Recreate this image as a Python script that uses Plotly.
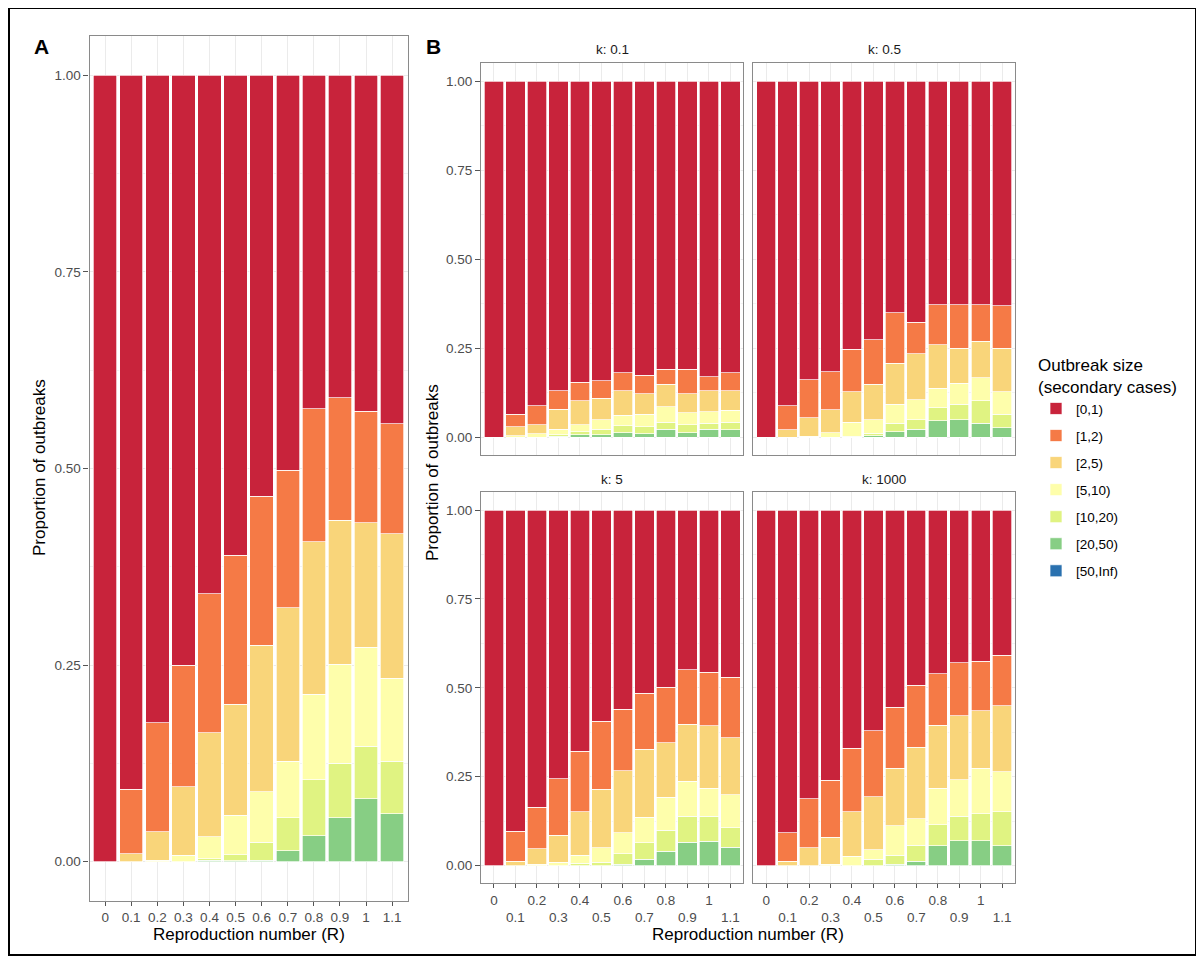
import plotly.graph_objects as go

# ---------------- data ----------------
R_LABELS = ["0", "0.1", "0.2", "0.3", "0.4", "0.5", "0.6", "0.7", "0.8", "0.9", "1", "1.1"]
SIZE_BINS = ["[0,1)", "[1,2)", "[2,5)", "[5,10)", "[10,20)", "[20,50)", "[50,Inf)"]
K_LABELS = ["k: 0.1", "k: 0.5", "k: 5", "k: 1000"]

# Panel A (proportion of outbreaks per size bin)
A_0_1 = [1.000, 0.908, 0.823, 0.750, 0.659, 0.610, 0.535, 0.502, 0.424, 0.410, 0.427, 0.443]
A_1_2 = [0.000, 0.082, 0.139, 0.155, 0.177, 0.190, 0.190, 0.175, 0.169, 0.156, 0.142, 0.140]
A_2_5 = [0.000, 0.010, 0.036, 0.087, 0.132, 0.141, 0.186, 0.195, 0.194, 0.183, 0.158, 0.184]
A_5_10 = [0.000, 0.000, 0.002, 0.008, 0.028, 0.050, 0.064, 0.072, 0.109, 0.126, 0.126, 0.105]
A_10_20 = [0.000, 0.000, 0.000, 0.000, 0.002, 0.008, 0.023, 0.042, 0.071, 0.069, 0.067, 0.067]
A_20_50 = [0.000, 0.000, 0.000, 0.000, 0.002, 0.001, 0.002, 0.014, 0.033, 0.056, 0.080, 0.061]
A_50_INF = [0, 0, 0, 0, 0, 0, 0, 0, 0, 0, 0, 0]

# Panel B, k = 0.1
K01_0_1 = [1.000, 0.935, 0.911, 0.869, 0.846, 0.842, 0.819, 0.826, 0.809, 0.809, 0.830, 0.819]
K01_1_2 = [0.000, 0.035, 0.054, 0.052, 0.052, 0.049, 0.050, 0.052, 0.043, 0.069, 0.039, 0.050]
K01_2_5 = [0.000, 0.026, 0.026, 0.057, 0.067, 0.060, 0.069, 0.057, 0.063, 0.053, 0.059, 0.056]
K01_5_10 = [0.000, 0.004, 0.009, 0.015, 0.019, 0.026, 0.030, 0.035, 0.043, 0.034, 0.033, 0.033]
K01_10_20 = [0.000, 0.000, 0.000, 0.005, 0.009, 0.016, 0.019, 0.021, 0.019, 0.022, 0.016, 0.021]
K01_20_50 = [0.000, 0.000, 0.000, 0.002, 0.007, 0.007, 0.013, 0.009, 0.023, 0.013, 0.023, 0.021]
K01_50_INF = [0, 0, 0, 0, 0, 0, 0, 0, 0, 0, 0, 0]

# Panel B, k = 0.5
K05_0_1 = [1.000, 0.911, 0.839, 0.816, 0.753, 0.727, 0.650, 0.677, 0.628, 0.628, 0.628, 0.631]
K05_1_2 = [0.000, 0.068, 0.106, 0.107, 0.119, 0.124, 0.142, 0.089, 0.112, 0.122, 0.103, 0.119]
K05_2_5 = [0.000, 0.021, 0.053, 0.064, 0.086, 0.100, 0.116, 0.129, 0.122, 0.098, 0.102, 0.122]
K05_5_10 = [0.000, 0.000, 0.002, 0.013, 0.039, 0.038, 0.053, 0.056, 0.055, 0.060, 0.065, 0.063]
K05_10_20 = [0.000, 0.000, 0.000, 0.000, 0.003, 0.007, 0.023, 0.026, 0.037, 0.043, 0.063, 0.038]
K05_20_50 = [0.000, 0.000, 0.000, 0.000, 0.000, 0.004, 0.016, 0.023, 0.046, 0.049, 0.039, 0.027]
K05_50_INF = [0, 0, 0, 0, 0, 0, 0, 0, 0, 0, 0, 0]

# Panel B, k = 5
K5_0_1 = [1.000, 0.904, 0.836, 0.756, 0.678, 0.594, 0.561, 0.516, 0.499, 0.449, 0.456, 0.470]
K5_1_2 = [0.000, 0.084, 0.117, 0.159, 0.170, 0.191, 0.172, 0.157, 0.155, 0.153, 0.151, 0.170]
K5_2_5 = [0.000, 0.012, 0.044, 0.076, 0.123, 0.165, 0.175, 0.191, 0.154, 0.161, 0.176, 0.161]
K5_5_10 = [0.000, 0.000, 0.003, 0.009, 0.023, 0.041, 0.059, 0.072, 0.093, 0.099, 0.079, 0.093]
K5_10_20 = [0.000, 0.000, 0.000, 0.000, 0.006, 0.009, 0.030, 0.047, 0.059, 0.073, 0.070, 0.054]
K5_20_50 = [0.000, 0.000, 0.000, 0.000, 0.000, 0.000, 0.003, 0.017, 0.040, 0.065, 0.068, 0.052]
K5_50_INF = [0, 0, 0, 0, 0, 0, 0, 0, 0, 0, 0, 0]

# Panel B, k = 1000
K1000_0_1 = [1.000, 0.908, 0.812, 0.760, 0.670, 0.621, 0.555, 0.493, 0.460, 0.429, 0.426, 0.409]
K1000_1_2 = [0.000, 0.080, 0.138, 0.161, 0.178, 0.185, 0.171, 0.174, 0.145, 0.150, 0.138, 0.142]
K1000_2_5 = [0.000, 0.012, 0.050, 0.076, 0.126, 0.149, 0.162, 0.201, 0.177, 0.180, 0.162, 0.185]
K1000_5_10 = [0.000, 0.000, 0.000, 0.003, 0.026, 0.028, 0.083, 0.075, 0.103, 0.103, 0.128, 0.112]
K1000_10_20 = [0.000, 0.000, 0.000, 0.000, 0.000, 0.017, 0.026, 0.045, 0.059, 0.068, 0.076, 0.096]
K1000_20_50 = [0.000, 0.000, 0.000, 0.000, 0.000, 0.000, 0.003, 0.012, 0.056, 0.070, 0.070, 0.056]
K1000_50_INF = [0, 0, 0, 0, 0, 0, 0, 0, 0, 0, 0, 0]

# ---------------- styling ----------------
BIN_COLORS = ["#C8233B", "#F57A46", "#F9D57A", "#FEFEAB", "#E0F382", "#87CE84", "#2A71AF"]
FONT = "Liberation Sans, Arial, sans-serif"
OFF = 8                     # page body margin of the browser
W, H = 1204 - OFF, 962 - OFF

PANELS = [
    ("", [A_0_1, A_1_2, A_2_5, A_5_10, A_10_20, A_20_50, A_50_INF]),
    ("2", [K01_0_1, K01_1_2, K01_2_5, K01_5_10, K01_10_20, K01_20_50, K01_50_INF]),
    ("3", [K05_0_1, K05_1_2, K05_2_5, K05_5_10, K05_10_20, K05_20_50, K05_50_INF]),
    ("4", [K5_0_1, K5_1_2, K5_2_5, K5_5_10, K5_10_20, K5_20_50, K5_50_INF]),
    ("5", [K1000_0_1, K1000_1_2, K1000_2_5, K1000_5_10, K1000_10_20, K1000_20_50, K1000_50_INF]),
]


def px_x(v):
    return (v - OFF) / W


def px_y(v):
    return 1 - (v - OFF) / H


fig = go.Figure()
for p, (suffix, series) in enumerate(PANELS):
    # stack bottom-up: largest sizes at the bottom, [0,1) on top
    for b in reversed(range(len(SIZE_BINS))):
        fig.add_trace(go.Bar(
            x=R_LABELS, y=series[b], name=SIZE_BINS[b],
            marker=dict(color=BIN_COLORS[b], line=dict(color="white", width=0.7)),
            legendgroup=SIZE_BINS[b], showlegend=(p == 0), legendrank=b + 1,
            xaxis="x" + suffix, yaxis="y" + suffix,
            hovertemplate="R=%{x}<br>%{y:.3f}<extra>" + SIZE_BINS[b] + "</extra>",
        ))

GRID = "#EBEBEB"
LINE = "#8A8A8A"
TICKFONT = dict(family=FONT, size=13.5, color="#4D4D4D")


def xaxis(domain, anchor, labels, ticktext=None):
    d = dict(domain=domain, anchor=anchor, type="category", range=[-0.6, 11.6],
             showgrid=True, gridcolor=GRID, gridwidth=1,
             showline=True, mirror=True, linecolor=LINE, linewidth=1.2,
             zeroline=False, tickfont=TICKFONT, fixedrange=True)
    if labels:
        d.update(ticks="outside", ticklen=4, tickcolor="#555555",
                 tickmode="array", tickvals=R_LABELS,
                 ticktext=ticktext if ticktext else R_LABELS)
    else:
        d.update(ticks="", showticklabels=False)
    return d


def yaxis(domain, anchor, labels):
    d = dict(domain=domain, anchor=anchor, range=[-0.05, 1.05],
             tickmode="array", tickvals=[0, 0.25, 0.5, 0.75, 1.0],
             ticktext=["0.00", "0.25", "0.50", "0.75", "1.00"],
             showgrid=True, gridcolor=GRID, gridwidth=1,
             minor=dict(tickmode="array", tickvals=[0.125, 0.375, 0.625, 0.875],
                        showgrid=True, gridcolor="#F3F3F3", gridwidth=0.6, ticks=""),
             showline=True, mirror=True, linecolor=LINE, linewidth=1.2,
             zeroline=False, tickfont=TICKFONT, fixedrange=True)
    if labels:
        d.update(ticks="outside", ticklen=5, tickcolor="#555555")
    else:
        d.update(ticks="", showticklabels=False)
    return d


DODGED = [t if i % 2 == 0 else "<br>" + t for i, t in enumerate(R_LABELS)]

A_X = [px_x(89.5), px_x(407.8)]
A_Y = [px_y(901), px_y(36)]
BL_X = [px_x(481), px_x(743.3)]
BR_X = [px_x(753.3), px_x(1015)]
BT_Y = [px_y(455), px_y(63.3)]
BB_Y = [px_y(883.3), px_y(492.3)]

fig.update_layout(
    xaxis=xaxis(A_X, "y", True),
    yaxis=yaxis(A_Y, "x", True),
    xaxis2=xaxis(BL_X, "y2", False),
    yaxis2=yaxis(BT_Y, "x2", True),
    xaxis3=xaxis(BR_X, "y3", False),
    yaxis3=yaxis(BT_Y, "x3", False),
    xaxis4=xaxis(BL_X, "y4", True, DODGED),
    yaxis4=yaxis(BB_Y, "x4", True),
    xaxis5=xaxis(BR_X, "y5", True, DODGED),
    yaxis5=yaxis(BB_Y, "x5", False),
)

STRIP = dict(size=13.5, color="#1A1A1A")
TITLE = dict(size=17, color="black")
annotations = [
    dict(text="<b>A</b>", x=px_x(41), y=px_y(47), font=dict(size=21, color="black")),
    dict(text="<b>B</b>", x=px_x(433), y=px_y(47), font=dict(size=21, color="black")),
    dict(text=K_LABELS[0], x=px_x(612), y=px_y(50), font=dict(STRIP)),
    dict(text=K_LABELS[1], x=px_x(884), y=px_y(50), font=dict(STRIP)),
    dict(text=K_LABELS[2], x=px_x(612), y=px_y(479), font=dict(STRIP)),
    dict(text=K_LABELS[3], x=px_x(884), y=px_y(479), font=dict(STRIP)),
    dict(text="Proportion of outbreaks", x=px_x(40), y=px_y(468), textangle=-90, font=dict(TITLE)),
    dict(text="Proportion of outbreaks", x=px_x(432), y=px_y(473), textangle=-90, font=dict(TITLE)),
    dict(text="Reproduction number (R)", x=px_x(248.5), y=px_y(934), font=dict(TITLE)),
    dict(text="Reproduction number (R)", x=px_x(748), y=px_y(934), font=dict(TITLE)),
]
for a in annotations:
    a.update(xref="paper", yref="paper", showarrow=False, xanchor="center", yanchor="middle")
    a["font"]["family"] = FONT

fig.update_layout(
    width=W, height=H,
    margin=dict(l=0, r=0, t=0, b=0),
    paper_bgcolor="white", plot_bgcolor="white",
    barmode="stack", bargap=0.1,
    font=dict(family=FONT, color="black"),
    annotations=annotations,
    shapes=[dict(type="rect", xref="paper", yref="paper",
                 x0=px_x(9), x1=px_x(1196), y0=px_y(955), y1=px_y(8),
                 line=dict(color="black", width=2), fillcolor="rgba(0,0,0,0)", layer="above")],
    legend=dict(
        x=px_x(1036), y=px_y(349), xanchor="left", yanchor="top",
        title=dict(text="Outbreak size<br>(secondary cases)", font=dict(size=17, family=FONT)),
        font=dict(size=13.5, family=FONT, color="black"),
        tracegroupgap=6.5, itemwidth=30, bgcolor="rgba(0,0,0,0)",
    ),
    showlegend=True,
)

fig.write_html("out.html")
